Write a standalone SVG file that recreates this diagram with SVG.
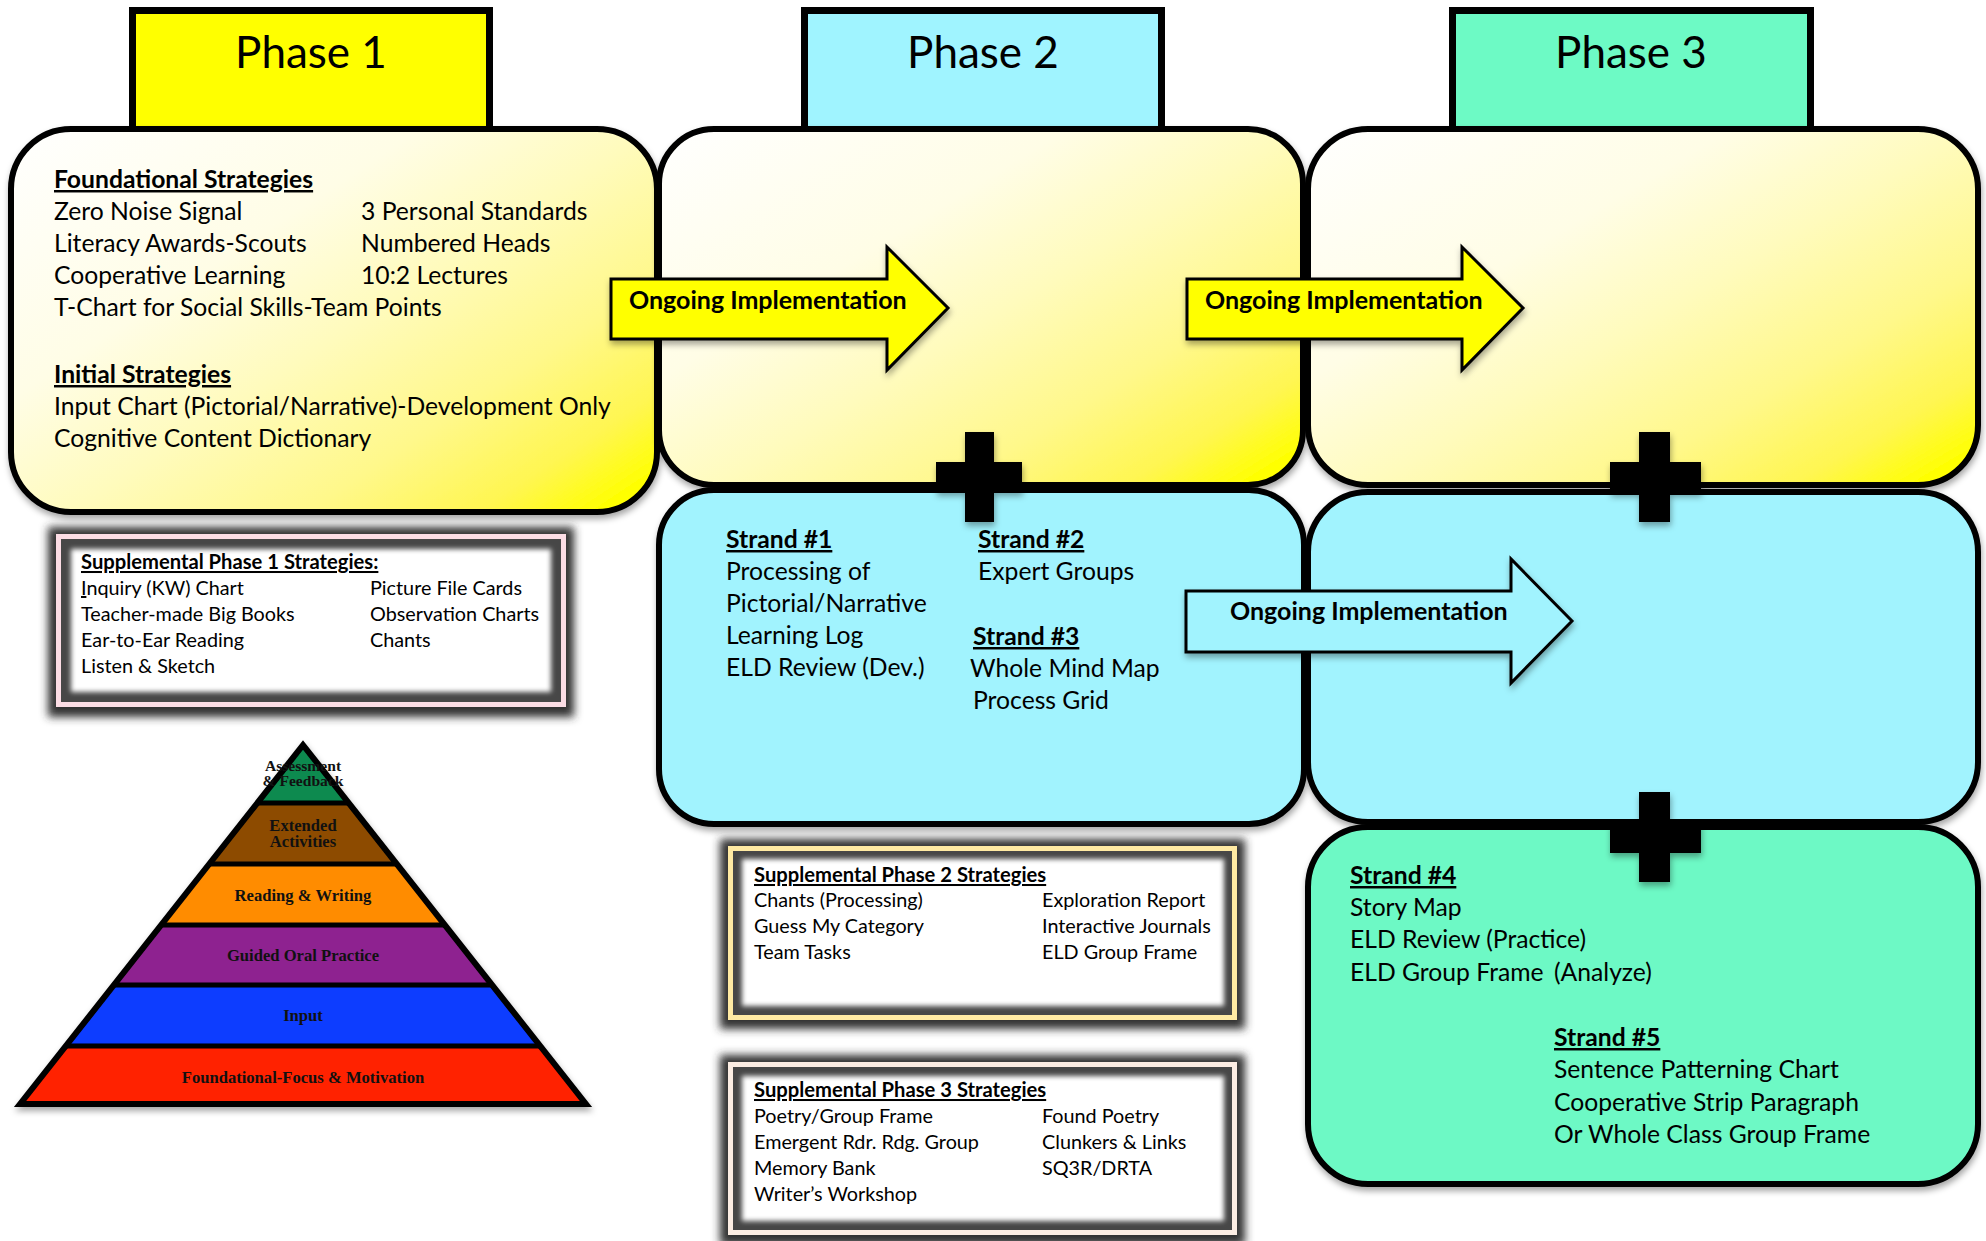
<svg xmlns="http://www.w3.org/2000/svg" width="1986" height="1241" viewBox="0 0 1986 1241">
<defs>
  <linearGradient id="yel" x1="0" y1="0" x2="1" y2="0.9">
    <stop offset="0" stop-color="#ffffff"/>
    <stop offset="0.35" stop-color="#fffde6"/>
    <stop offset="0.55" stop-color="#fffbbc"/>
    <stop offset="0.75" stop-color="#fff88a"/>
    <stop offset="0.9" stop-color="#fff650"/>
    <stop offset="1" stop-color="#ffff00"/>
  </linearGradient>
  <filter id="shadow" x="-10%" y="-10%" width="120%" height="125%">
    <feDropShadow dx="1" dy="4" stdDeviation="3" flood-color="#000" flood-opacity="0.35"/>
  </filter>
  <filter id="blur4" x="-10%" y="-15%" width="120%" height="130%">
    <feGaussianBlur stdDeviation="4"/>
  </filter>
  <filter id="blur2" x="-10%" y="-15%" width="120%" height="130%">
    <feGaussianBlur stdDeviation="2.5"/>
  </filter>
  <style>
    .phase { stroke:#000; stroke-width:7; }
    .box { stroke:#000; stroke-width:6; }
    .arrow { stroke:#000; stroke-width:3; stroke-linejoin:miter; }
    .t { font-family:Lato, "Liberation Sans", sans-serif; fill:#000; }
    .ph { font-size:44px; text-anchor:middle; }
    .m { font-size:24.7px; }
    .s { font-size:19.8px; }
    .sh { font-size:20.2px; }
    .b { font-weight:bold; }
    .u { text-decoration:underline; }
    .ar { font-size:25px; font-weight:bold; }
    .py { font-family:"Liberation Serif", "DejaVu Serif", serif; font-weight:bold; font-size:16.6px; text-anchor:middle; fill:#111; }
    .pys { font-size:15.6px; }
    .pline { stroke:#000; stroke-width:5; }
  </style>
</defs>
<rect width="1986" height="1241" fill="#fff"/>

<g id="phase1"><rect class="phase" x="132.5" y="10.5" width="357" height="120" fill="#ffff00"/><text class="t ph" x="311" y="68">Phase 1</text></g>
<g id="phase2"><rect class="phase" x="804.5" y="10.5" width="357" height="120" fill="#a0f4ff"/><text class="t ph" x="983" y="68">Phase 2</text></g>
<g id="phase3"><rect class="phase" x="1452.5" y="10.5" width="358" height="120" fill="#6dfac5"/><text class="t ph" x="1631" y="68">Phase 3</text></g>

<g id="box1"><rect class="box" x="11" y="129" width="646" height="383" rx="60" fill="url(#yel)" filter="url(#shadow)"/></g>
<g id="box2y"><rect class="box" x="659" y="129" width="644" height="356" rx="55" fill="url(#yel)" filter="url(#shadow)"/></g>
<g id="box3y"><rect class="box" x="1308" y="129" width="670" height="356" rx="60" fill="url(#yel)" filter="url(#shadow)"/></g>
<g id="box2b"><rect class="box" x="659" y="490" width="645" height="334" rx="55" fill="#a1f3fe" filter="url(#shadow)"/></g>
<g id="box3b"><rect class="box" x="1308" y="492" width="670" height="330" rx="60" fill="#a1f3fe" filter="url(#shadow)"/></g>
<g id="box3g"><rect class="box" x="1308" y="827" width="670" height="357" rx="60" fill="#6df9c5" filter="url(#shadow)"/></g>

<g id="connectors">
  <path class="arrow" d="M611,279 H887 V247 L948,308 L887,370 V339 H611 Z" fill="#ffff00" filter="url(#shadow)"/>
  <path class="arrow" d="M1187,279 H1462 V247 L1523,308 L1462,370 V339 H1187 Z" fill="#ffff00" filter="url(#shadow)"/>
  <path class="arrow" d="M1186,591 H1511 V559 L1572,621 L1511,683 V652 H1186 Z" fill="#a1f3fe" filter="url(#shadow)"/>
  <path d="M965,432 H994 V462 H1022 V492 H994 V522 H965 V492 H936 V462 H965 Z" fill="#000" filter="url(#shadow)"/>
  <path d="M1639,432 H1670 V462 H1701 V493 H1670 V522 H1639 V493 H1610 V462 H1639 Z" fill="#000" filter="url(#shadow)"/>
  <path d="M1639,792 H1670 V822 H1701 V853 H1670 V882 H1639 V853 H1610 V822 H1639 Z" fill="#000" filter="url(#shadow)"/>
</g>

<g id="arrow-labels">
  <text class="t ar" x="629" y="309">Ongoing Implementation</text>
  <text class="t ar" x="1205" y="309">Ongoing Implementation</text>
  <text class="t ar" x="1230" y="620">Ongoing Implementation</text>
</g>

<g id="box1-text" class="t m">
  <text class="t m b u" x="54" y="188">Foundational Strategies</text>
  <text x="54" y="220">Zero Noise Signal</text><text x="361" y="220">3 Personal Standards</text>
  <text x="54" y="252">Literacy Awards-Scouts</text><text x="361" y="252">Numbered Heads</text>
  <text x="54" y="284">Cooperative Learning</text><text x="361" y="284">10:2 Lectures</text>
  <text x="54" y="316">T-Chart for Social Skills-Team Points</text>
  <text class="t m b u" x="54" y="383">Initial Strategies</text>
  <text x="54" y="415">Input Chart (Pictorial/Narrative)-Development Only</text>
  <text x="54" y="447">Cognitive Content Dictionary</text>
</g>

<g id="box2b-text" class="t m">
  <text class="t m b u" x="726" y="548">Strand #1</text><text class="t m b u" x="978" y="548">Strand #2</text>
  <text x="726" y="580">Processing of</text><text x="978" y="580">Expert Groups</text>
  <text x="726" y="612">Pictorial/Narrative</text>
  <text x="726" y="644">Learning Log</text><text class="t m b u" x="973" y="645">Strand #3</text>
  <text x="726" y="676">ELD Review (Dev.)</text><text x="970" y="677">Whole Mind Map</text>
  <text x="973" y="709">Process Grid</text>
</g>

<g id="box3g-text" class="t m">
  <text class="t m b u" x="1350" y="884">Strand #4</text>
  <text x="1350" y="916">Story Map</text>
  <text x="1350" y="948">ELD Review (Practice)</text>
  <text x="1350" y="981">ELD Group Frame<tspan x="1554">(Analyze)</tspan></text>
  <text class="t m b u" x="1554" y="1046">Strand #5</text>
  <text x="1554" y="1078">Sentence Patterning Chart</text>
  <text x="1554" y="1111">Cooperative Strip Paragraph</text>
  <text x="1554" y="1143">Or Whole Class Group Frame</text>
</g>

<g id="supp1">
  <rect x="48" y="527" width="526" height="190" fill="#333" filter="url(#blur4)"/>
  <rect x="56" y="534" width="510" height="173" fill="#fcdde5"/>
  <rect x="61" y="539" width="500" height="163" fill="#474747"/>
  <rect x="71" y="549" width="480" height="143" fill="#fff" filter="url(#blur2)"/>
  <g class="t s">
    <text class="t sh b u" x="81" y="569">Supplemental Phase 1 Strategies:</text>
    <text x="81" y="595"><tspan class="u">I</tspan>nquiry (KW) Chart</text><text x="370" y="595">Picture File Cards</text>
    <text x="81" y="621">Teacher-made Big Books</text><text x="370" y="621">Observation Charts</text>
    <text x="81" y="647">Ear-to-Ear Reading</text><text x="370" y="647">Chants</text>
    <text x="81" y="673">Listen &amp; Sketch</text>
  </g>
</g>

<g id="supp2">
  <rect x="720" y="839" width="525" height="190" fill="#333" filter="url(#blur4)"/>
  <rect x="728" y="846" width="509" height="174" fill="#ffeaa3"/>
  <rect x="733" y="851" width="499" height="164" fill="#474747"/>
  <rect x="742" y="859" width="482" height="147" fill="#fff" filter="url(#blur2)"/>
  <g class="t s">
    <text class="t sh b u" x="754" y="882">Supplemental Phase 2 Strategies</text>
    <text x="754" y="907">Chants (Processing)</text><text x="1042" y="907">Exploration Report</text>
    <text x="754" y="933">Guess My Category</text><text x="1042" y="933">Interactive Journals</text>
    <text x="754" y="959">Team Tasks</text><text x="1042" y="959">ELD Group Frame</text>
  </g>
</g>

<g id="supp3">
  <rect x="720" y="1055" width="525" height="190" fill="#333" filter="url(#blur4)"/>
  <rect x="728" y="1062" width="509" height="173" fill="#fcede3"/>
  <rect x="733" y="1067" width="499" height="163" fill="#474747"/>
  <rect x="742" y="1076" width="482" height="145" fill="#fff" filter="url(#blur2)"/>
  <g class="t s">
    <text class="t sh b u" x="754" y="1097">Supplemental Phase 3 Strategies</text>
    <text x="754" y="1123">Poetry/Group Frame</text><text x="1042" y="1123">Found Poetry</text>
    <text x="754" y="1149">Emergent Rdr. Rdg. Group</text><text x="1042" y="1149">Clunkers &amp; Links</text>
    <text x="754" y="1175">Memory Bank</text><text x="1042" y="1175">SQ3R/DRTA</text>
    <text x="754" y="1201">Writer’s Workshop</text>
  </g>
</g>

<g id="pyramid">
  <g filter="url(#shadow)">
    <polygon points="303,745 348.7,803 257.3,803" fill="#0a8a4f"/>
    <polygon points="257.3,803 348.7,803 396.8,864 209.2,864" fill="#8d4c00"/>
    <polygon points="209.2,864 396.8,864 444.8,925 161.2,925" fill="#ff8c00"/>
    <polygon points="161.2,925 444.8,925 492.1,985 113.9,985" fill="#8e2390"/>
    <polygon points="113.9,985 492.1,985 540.2,1046 65.8,1046" fill="#0d3cff"/>
    <polygon points="65.8,1046 540.2,1046 585.9,1104 20.1,1104" fill="#ff2200"/>
    <line class="pline" x1="257.3" y1="803" x2="348.7" y2="803"/>
    <line class="pline" x1="209.2" y1="864" x2="396.8" y2="864"/>
    <line class="pline" x1="161.2" y1="925" x2="444.8" y2="925"/>
    <line class="pline" x1="113.9" y1="985" x2="492.1" y2="985"/>
    <line class="pline" x1="65.8" y1="1046" x2="540.2" y2="1046"/>
    <polygon points="303,745 585.9,1104 20.1,1104" fill="none" stroke="#000" stroke-width="6" stroke-linejoin="miter"/>
  </g>
  <text class="py pys" x="303" y="771">Assessment</text>
  <text class="py pys" x="303" y="786">&amp; Feedback</text>
  <text class="py" x="303" y="831">Extended</text>
  <text class="py" x="303" y="847">Activities</text>
  <text class="py" x="303" y="901">Reading &amp; Writing</text>
  <text class="py" x="303" y="961">Guided Oral Practice</text>
  <text class="py" x="303" y="1021">Input</text>
  <text class="py" x="303" y="1083">Foundational-Focus &amp; Motivation</text>
</g>
</svg>
